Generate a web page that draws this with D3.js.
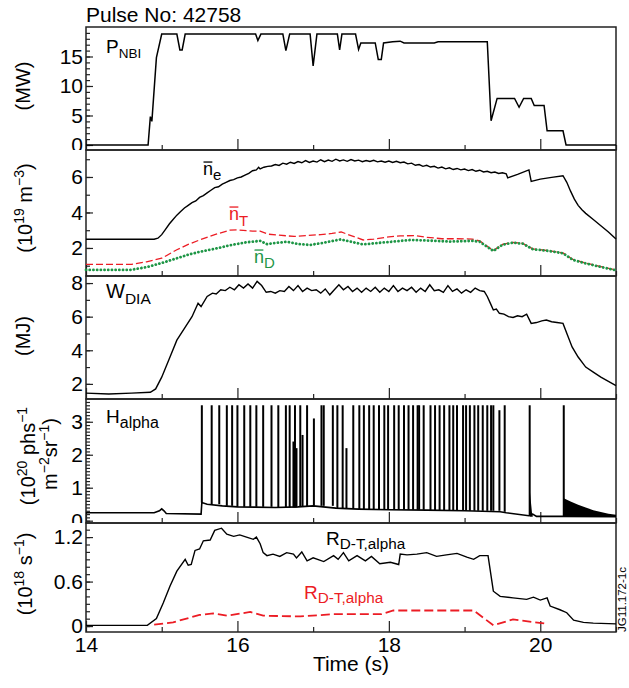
<!DOCTYPE html>
<html lang="en">
  <head>
    <meta charset="UTF-8" />
    <title>Pulse No: 42758</title>
    <script src="https://d3js.org/d3.v7.min.js"></script>
    <style>
      body { margin: 0; background: #fff; }
      text { font-family: "Liberation Sans", Arial, Helvetica, sans-serif; fill: #000; }
    </style>
  </head>
  <body>
    <div id="chart"></div>
    <script>
      // ---- data: [time (s), value] ----
      const pnbi = [[14,0],[14.82,0],[14.85,4.8],[14.87,4.0],[14.93,14.8],[15.0,18.8],[15.2,18.8],[15.24,16.1],[15.27,16.1],[15.31,18.8],
        [16.24,18.8],[16.27,17.7],[16.31,18.8],[16.6,18.8],[16.64,16.0],[16.69,18.8],[16.96,18.8],[17.0,13.4],[17.05,18.8],
        [17.32,18.8],[17.35,16.1],[17.38,18.8],[17.56,18.8],[17.6,16.2],[17.63,17.3],[17.82,17.3],[17.86,14.5],[17.9,14.5],
        [17.93,17.3],[18.05,17.5],[18.15,17.6],[18.2,17.3],[18.6,17.3],[18.65,17.5],[19.3,17.5],[19.35,4.1],[19.43,7.9],
        [19.66,7.9],[19.72,6.4],[19.78,7.9],[19.88,7.9],[19.92,6.7],[20.05,6.7],[20.09,2.4],[20.3,2.4],[20.34,0],[21,0]];

      const ne = [[14,2.49],[14.9,2.49],[14.95,2.55],[15.0,2.75],[15.05,3.05],[15.1,3.35],[15.15,3.6],[15.2,3.85],[15.25,4.05],
        [15.3,4.25],[15.35,4.4],[15.4,4.55],[15.45,4.65],[15.5,4.85],[15.55,4.95],[15.6,5.1],[15.65,5.25],[15.7,5.4],[15.75,5.45],
        [15.8,5.6],[15.85,5.7],[15.9,5.8],[15.95,5.85],[16.0,5.95],[16.05,6.0],[16.1,6.1],[16.15,6.2],[16.2,6.35],[16.25,6.4],
        [16.28,6.55],[16.3,6.45],[16.35,6.55],[16.4,6.6],[16.45,6.62],[16.5,6.7],[16.55,6.65],[16.6,6.78],[16.65,6.72],[16.7,6.83],
        [16.75,6.76],[16.8,6.87],[16.85,6.8],[16.9,6.92],[16.95,6.82],[17.0,6.9],[17.05,6.84],[17.1,6.97],[17.15,6.86],[17.2,6.95],
        [17.25,6.88],[17.3,7.0],[17.35,6.9],[17.4,6.96],[17.45,6.88],[17.5,6.98],[17.55,6.9],[17.6,6.95],[17.65,6.86],[17.7,6.93],
        [17.75,6.87],[17.8,6.94],[17.85,6.85],[17.9,6.9],[17.95,6.83],[18.0,6.9],[18.05,6.82],[18.1,6.88],[18.15,6.8],[18.2,6.84],
        [18.25,6.74],[18.3,6.78],[18.35,6.66],[18.4,6.7],[18.45,6.6],[18.5,6.66],[18.55,6.56],[18.6,6.6],[18.65,6.5],[18.7,6.56],
        [18.75,6.46],[18.8,6.52],[18.85,6.42],[18.9,6.48],[18.95,6.4],[19.0,6.45],[19.05,6.36],[19.1,6.42],[19.15,6.32],[19.2,6.38],
        [19.25,6.28],[19.3,6.32],[19.35,6.24],[19.4,6.28],[19.45,6.2],[19.5,6.24],[19.55,6.18],[19.57,5.95],[19.7,6.15],[19.85,6.4],
        [19.88,5.75],[20.0,5.88],[20.15,5.98],[20.3,6.07],[20.35,5.7],[20.4,5.2],[20.45,4.75],[20.5,4.4],[20.55,4.15],[20.6,3.95],
        [20.7,3.6],[20.8,3.25],[20.9,2.9],[21.0,2.5]];

      const nT = [[14,1.08],[14.6,1.08],[14.8,1.22],[15.0,1.42],[15.2,1.9],[15.35,2.2],[15.5,2.45],[15.7,2.75],[15.9,3.0],[16.0,3.02],
        [16.2,2.95],[16.3,2.95],[16.4,2.78],[16.55,2.72],[16.75,2.65],[16.9,2.7],[17.1,2.75],[17.25,2.82],[17.37,2.9],[17.5,2.7],
        [17.66,2.45],[17.8,2.5],[18.0,2.62],[18.15,2.68],[18.35,2.7],[18.5,2.6],[18.7,2.52],[18.9,2.52],[19.1,2.5],[19.2,2.4],
        [19.38,1.85],[19.5,2.2],[19.64,2.32],[19.77,2.26],[19.9,1.95],[20.1,1.85],[20.3,1.72],[20.43,1.35],[20.6,1.15],[20.8,0.95],[21,0.76]];

      const nD = [[14,0.76],[14.58,0.76],[14.8,0.92],[15.0,1.15],[15.2,1.42],[15.35,1.62],[15.5,1.78],[15.7,1.95],[15.9,2.15],
        [16.12,2.32],[16.3,2.4],[16.39,2.22],[16.5,2.28],[16.65,2.35],[16.8,2.22],[16.96,2.17],[17.15,2.3],[17.36,2.48],[17.5,2.35],
        [17.66,2.2],[17.85,2.28],[18.06,2.36],[18.28,2.45],[18.5,2.42],[18.81,2.36],[19.11,2.4],[19.2,2.35],[19.38,1.83],[19.5,2.18],
        [19.64,2.3],[19.77,2.24],[19.9,1.93],[20.1,1.84],[20.3,1.7],[20.43,1.33],[20.6,1.13],[20.8,0.93],[21,0.74]];

      const wdia = [[14,1.45],[14.3,1.4],[14.6,1.45],[14.85,1.5],[14.92,1.7],[15.0,2.4],[15.1,3.5],[15.2,4.6],[15.3,5.3],[15.4,6.0],
        [15.48,6.8],[15.52,6.6],[15.6,7.2],[15.67,7.4],[15.72,7.35],[15.78,7.6],[15.84,7.55],[15.9,7.75],[15.96,7.6],[16.02,7.9],
        [16.08,7.7],[16.14,7.95],[16.2,7.7],[16.26,8.1],[16.32,7.85],[16.38,7.45],[16.44,7.5],[16.5,7.4],[16.56,7.55],[16.62,7.5],
        [16.68,7.8],[16.74,7.55],[16.8,7.85],[16.86,7.5],[16.92,7.7],[16.98,7.55],[17.04,7.6],[17.1,7.4],[17.16,7.65],[17.22,7.3],
        [17.28,7.6],[17.34,7.9],[17.4,7.6],[17.46,7.8],[17.52,7.5],[17.58,7.7],[17.64,7.45],[17.7,7.7],[17.76,7.5],[17.82,7.75],
        [17.88,7.45],[17.94,7.7],[18.0,7.5],[18.06,7.85],[18.12,7.5],[18.18,7.7],[18.24,7.55],[18.3,7.75],[18.36,7.45],[18.42,7.7],
        [18.48,7.5],[18.54,7.9],[18.6,7.55],[18.66,7.6],[18.72,7.45],[18.78,7.85],[18.84,7.5],[18.9,7.65],[18.96,7.4],[19.02,7.6],
        [19.08,7.45],[19.14,7.7],[19.2,7.55],[19.26,7.5],[19.3,7.2],[19.35,6.7],[19.38,6.4],[19.42,6.45],[19.46,6.2],[19.52,6.15],
        [19.58,6.0],[19.64,5.95],[19.7,6.05],[19.76,6.0],[19.82,6.15],[19.88,5.6],[19.95,5.65],[20.02,5.75],[20.08,5.8],[20.15,5.7],
        [20.22,5.65],[20.3,5.6],[20.36,4.9],[20.42,4.2],[20.5,3.6],[20.6,3.0],[20.7,2.7],[20.8,2.4],[20.9,2.15],[21,1.9]];

      const haBase = [[14,0.24],[14.9,0.24],[14.97,0.3],[15.0,0.36],[15.03,0.3],[15.06,0.22],[15.52,0.2],[15.53,0.55],[15.6,0.5],
        [15.8,0.45],[16.0,0.42],[16.5,0.4],[16.8,0.42],[17.0,0.45],[17.3,0.38],[17.6,0.35],[18.0,0.33],[18.5,0.32],[19.0,0.3],
        [19.47,0.27],[19.55,0.24],[19.85,0.15],[19.9,0.2],[19.95,0.13],[20.3,0.13],[21,0.12]];
      const haSpikeT = [15.53,15.66,15.76,15.86,15.93,16.0,16.09,16.17,16.25,16.34,16.45,16.54,16.64,16.69,16.74,16.76,16.78,16.83,
        16.86,16.92,17.01,17.11,17.14,17.26,17.32,17.39,17.44,17.53,17.61,17.67,17.74,17.8,17.87,17.94,17.99,18.07,18.13,18.2,
        18.26,18.32,18.38,18.4,18.46,18.55,18.61,18.67,18.73,18.8,18.85,18.9,18.98,19.02,19.07,19.13,19.18,19.24,19.3,19.35,
        19.38,19.46,19.53,19.86,20.31];
      const haSpikeV = [3.5,3.5,3.5,3.5,3.5,3.5,3.5,3.5,3.5,3.5,3.5,3.5,3.5,3.5,2.4,3.5,2.2,3.5,
        2.6,3.5,3.1,3.5,3.5,3.5,3.5,3.5,2.2,3.5,3.5,3.5,3.5,3.5,3.5,3.5,3.5,3.5,3.5,3.5,
        3.5,3.5,3.5,3.5,3.5,3.5,3.5,3.5,3.5,3.5,3.5,3.5,3.5,3.5,3.5,3.5,3.5,3.5,3.5,3.5,
        3.5,3.35,3.5,3.5,3.5];
      const haTail = [[19.86,0.95],[19.875,0.6],[19.89,0.25],[19.9,0.18]];
      const haGrass = [[20.31,0.68],[20.4,0.58],[20.5,0.48],[20.6,0.4],[20.7,0.32],[20.8,0.26],[20.9,0.21],[21,0.18]];

      const rdt = [[14,0.01],[14.81,0.01],[14.93,0.1],[15.02,0.31],[15.11,0.54],[15.2,0.74],[15.31,0.9],[15.35,0.82],[15.39,0.83],
        [15.44,1.02],[15.5,1.04],[15.55,1.15],[15.64,1.16],[15.7,1.29],[15.79,1.32],[15.86,1.24],[15.95,1.21],[16.03,1.23],
        [16.12,1.2],[16.21,1.17],[16.25,1.2],[16.3,1.11],[16.34,0.99],[16.39,0.95],[16.47,0.97],[16.56,0.94],[16.65,0.99],
        [16.74,0.97],[16.78,0.92],[16.85,1.0],[16.92,0.88],[17.0,0.92],[17.14,0.87],[17.27,0.95],[17.33,0.9],[17.4,0.99],
        [17.47,0.88],[17.58,0.95],[17.69,0.88],[17.77,0.94],[17.88,0.84],[18.02,0.86],[18.13,0.83],[18.15,0.97],[18.24,0.96],
        [18.37,0.97],[18.5,0.99],[18.63,0.94],[18.76,0.96],[18.9,0.98],[19.03,0.93],[19.12,0.9],[19.2,0.95],[19.31,0.95],
        [19.38,0.47],[19.47,0.4],[19.64,0.38],[19.82,0.36],[19.91,0.39],[20.0,0.35],[20.09,0.38],[20.13,0.27],[20.26,0.22],
        [20.35,0.18],[20.44,0.08],[20.57,0.05],[20.7,0.04],[21,0.03]];
      const rdtRed = [[14.9,0.02],[15.15,0.05],[15.5,0.15],[15.68,0.17],[15.86,0.14],[16.17,0.19],[16.34,0.14],[16.83,0.13],
        [17.27,0.16],[17.9,0.16],[18.06,0.21],[19.12,0.21],[19.38,0.01],[19.64,0.09],[20.09,0.03]];

      const xTicks = [14, 15, 16, 17, 18, 19, 20, 21];
      const xLabels = [14, 16, 18, 20];
      const pTicks = [0, 5, 10, 15];
      const nTicks = [2, 4, 6];
      const wTicks = [2, 4, 6, 8];
      const hTicks = [0, 1, 2, 3];
      const rTicks = [0, 0.6, 1.2];

      // ---- layout ----
      const width = 629, height = 688;
      const left = 86, right = 616;
      const red = "#ec1c24", green = "#1e9646";

      const svg = d3.select("#chart").append("svg")
        .attr("width", width).attr("height", height);

      const x = d3.scaleLinear().domain([14, 21]).range([left, right]);

      const panels = [
        { top: 27, bottom: 150, domain: [-0.85, 20], ticks: pTicks, minor: 1 },
        { top: 150, bottom: 276, domain: [0.42, 7.52], ticks: nTicks, minor: 1 },
        { top: 276, bottom: 399, domain: [1.1, 8.42], ticks: wTicks, minor: 1 },
        { top: 399, bottom: 523, domain: [-0.07, 3.69], ticks: hTicks, minor: 0.1 },
        { top: 523, bottom: 632, domain: [-0.08, 1.39], ticks: rTicks, minor: 0.1 },
      ];

      const defs = svg.append("defs");

      panels.forEach((p, i) => {
        p.y = d3.scaleLinear().domain(p.domain).range([p.bottom, p.top]);
        const minors = d3.range(Math.ceil(p.domain[0] / p.minor) * p.minor, p.domain[1], p.minor)
          .map((v) => +v.toFixed(2));

        // tick labels are cut at the panel edges, as in the original
        defs.append("clipPath").attr("id", "yclip" + i)
          .append("rect").attr("x", -left).attr("y", p.top)
          .attr("width", left + 20).attr("height", i === panels.length - 1 ? p.bottom - p.top + 4 : p.bottom - p.top);

        // minor y ticks (inside)
        svg.append("g").attr("transform", `translate(${left},0)`)
          .call(d3.axisLeft(p.y).tickValues(minors).tickSize(-4).tickFormat(""))
          .call((g) => g.select(".domain").remove());
        // labelled y ticks
        svg.append("g").attr("transform", `translate(${left},0)`)
          .attr("clip-path", `url(#yclip${i})`)
          .call(d3.axisLeft(p.y).tickValues(p.ticks).tickSize(-7).tickPadding(3).tickFormat((d) => d))
          .call((g) => g.select(".domain").remove())
          .selectAll("text").style("font-size", "21px").attr("font-family", null);

        // x ticks at the bottom of each panel, pointing up
        svg.append("g").attr("transform", `translate(0,${p.bottom})`)
          .call(d3.axisBottom(x).tickValues(xTicks.filter((d) => d % 2 === 1)).tickSize(-5).tickFormat(""))
          .call((g) => g.select(".domain").remove());
        const xb = svg.append("g").attr("transform", `translate(0,${p.bottom})`)
          .call(d3.axisBottom(x).tickValues(xLabels).tickSize(-11).tickPadding(5)
            .tickFormat(i === panels.length - 1 ? (d) => d : ""))
          .call((g) => g.select(".domain").remove());
        xb.selectAll("text").style("font-size", "21px").attr("font-family", null);
      });
      svg.selectAll(".tick line").attr("stroke", "#222").attr("stroke-width", 1.2);

      // frames
      panels.forEach((p) => {
        svg.append("rect").attr("x", left).attr("y", p.top)
          .attr("width", right - left).attr("height", p.bottom - p.top)
          .attr("fill", "none").attr("stroke", "#222").attr("stroke-width", 1.5);
      });

      const line = (p) => d3.line().x((d) => x(d[0])).y((d) => p.y(d[1]));

      // panel 1: NBI power
      svg.append("path").datum(pnbi).attr("d", line(panels[0]))
        .attr("fill", "none").attr("stroke", "#000").attr("stroke-width", 1.5);

      // panel 2: densities
      svg.append("path").datum(ne).attr("d", line(panels[1]))
        .attr("fill", "none").attr("stroke", "#000").attr("stroke-width", 1.4);
      svg.append("path").datum(nT).attr("d", line(panels[1]))
        .attr("fill", "none").attr("stroke", red).attr("stroke-width", 1.3)
        .attr("stroke-dasharray", "7,3");
      svg.append("path").datum(nD).attr("d", line(panels[1]))
        .attr("fill", "none").attr("stroke", green).attr("stroke-width", 2.8)
        .attr("stroke-linecap", "round").attr("stroke-dasharray", "0.1,3.6");

      // panel 3: stored energy
      svg.append("path").datum(wdia).attr("d", line(panels[2]))
        .attr("fill", "none").attr("stroke", "#000").attr("stroke-width", 1.4);

      // panel 4: H-alpha
      const ph = panels[3];
      const baseAt = (t) => {
        const i = d3.bisector((d) => d[0]).right(haBase, t) - 1;
        return haBase[Math.max(0, i)][1];
      };
      svg.append("path").datum(haBase).attr("d", line(ph))
        .attr("fill", "none").attr("stroke", "#000").attr("stroke-width", 1.6);
      svg.append("g").selectAll("line").data(haSpikeT).join("line")
        .attr("x1", (d) => x(d)).attr("x2", (d) => x(d))
        .attr("y1", (d) => ph.y(baseAt(d))).attr("y2", (d, i) => ph.y(haSpikeV[i]))
        .attr("stroke", "#000").attr("stroke-width", 2);
      const area = d3.area().x((d) => x(d[0])).y0(ph.y(0.12)).y1((d) => ph.y(d[1]));
      svg.append("path").datum(haTail).attr("d", area).attr("fill", "#000");
      svg.append("path").datum(haGrass).attr("d", area).attr("fill", "#000");

      // panel 5: D-T alpha rate
      svg.append("path").datum(rdt).attr("d", line(panels[4]))
        .attr("fill", "none").attr("stroke", "#000").attr("stroke-width", 1.4);
      svg.append("path").datum(rdtRed).attr("d", line(panels[4]))
        .attr("fill", "none").attr("stroke", red).attr("stroke-width", 1.8)
        .attr("stroke-dasharray", "9,4");

      // ---- text ----
      svg.append("text").attr("x", 86).attr("y", 22).style("font-size", "21px").text("Pulse No: 42758");

      function label(xp, yp, main, sub, size, subSize, color, dy) {
        const t = svg.append("text").attr("x", xp).attr("y", yp)
          .style("font-size", size + "px").style("fill", color || "#000");
        t.append("tspan").text(main);
        t.append("tspan").attr("dy", dy).style("font-size", subSize + "px").text(sub);
        return t;
      }
      function barN(xp, yp, sub, size, subSize, color, dy) {
        label(xp, yp, "n", sub, size, subSize, color, dy);
        svg.append("line").attr("x1", xp + 0.5).attr("x2", xp + size * 0.52)
          .attr("y1", yp - size * 0.72).attr("y2", yp - size * 0.72)
          .attr("stroke", color).attr("stroke-width", 1.3);
      }

      label(106, 53, "P", "NBI", 19, 13.5, "#000", 5);
      barN(203, 175, "e", 18, 15, "#000", 5);
      barN(229, 220, "T", 18, 15, red, 6);
      barN(254, 263, "D", 18, 15, green, 5);
      label(106, 298, "W", "DIA", 20, 15.5, "#000", 6);
      label(106, 423, "H", "alpha", 19, 16, "#000", 5);
      label(326, 545, "R", "D-T,alpha", 19, 15.3, "#000", 4);
      label(304, 599, "R", "D-T,alpha", 19, 15.3, red, 4);

      // y-axis titles (rotated), parts: [text, isSuperscript]
      function ylab(xp, yp, parts) {
        const t = svg.append("text").attr("transform", `translate(${xp},${yp}) rotate(-90)`)
          .attr("text-anchor", "middle").style("font-size", "20px");
        let up = false;
        parts.forEach(([s, sup]) => {
          const ts = t.append("tspan").text(s);
          if (sup && !up) { ts.attr("dy", -8).style("font-size", "14px"); up = true; }
          else if (sup) { ts.style("font-size", "14px"); }
          else if (up) { ts.attr("dy", 8); up = false; }
        });
      }
      ylab(30, 86, [["(MW)"]]);
      ylab(32, 208, [["(10"], ["19", 1], [" m"], ["\u22123", 1], [")"]]);
      ylab(30, 336, [["(MJ)"]]);
      ylab(35, 456, [["(10"], ["20", 1], [" phs"], ["\u22121", 1]]);
      ylab(57, 454, [["m"], ["\u22122", 1], ["sr"], ["\u22121", 1], [")"]]);
      ylab(32, 574, [["(10"], ["18", 1], [" s"], ["\u22121", 1], [")"]]);

      svg.append("text").attr("x", 351).attr("y", 671).attr("text-anchor", "middle")
        .style("font-size", "21px").text("Time (s)");

      svg.append("text").attr("transform", "translate(626,632) rotate(-90)")
        .style("font-size", "11.5px").text("JG11.172-1c");
    </script>
  </body>
</html>
